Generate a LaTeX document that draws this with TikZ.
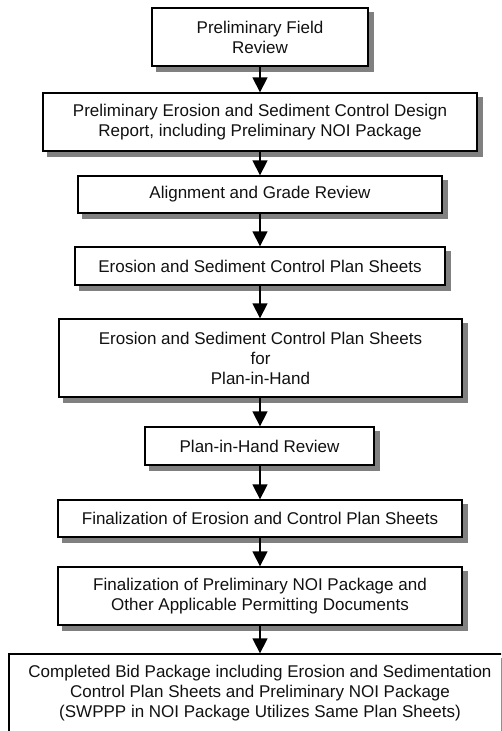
\documentclass[tikz,border=0pt]{standalone}
\usepackage{fontspec}
\setmainfont{Liberation Sans}
\usetikzlibrary{arrows.meta,backgrounds}
\definecolor{shadowgray}{HTML}{808080}
\definecolor{inkcol}{HTML}{111111}
\tikzset{
  stepbox/.style={draw=black, line width=1.3pt, fill=white, rectangle,
    align=center, inner sep=0pt, text=inkcol,
    font=\fontsize{17}{20}\selectfont},
  boxshadow/.style={fill=shadowgray},
  flowarrow/.style={line width=1.3pt, -{Triangle[width=15pt,length=15pt]}}
}
\begin{document}
\begin{tikzpicture}[x=1pt,y=-1pt]
\useasboundingbox (0,0) rectangle (501,731);
\clip (0,0) rectangle (501,731);
\node[stepbox, minimum width=216pt, minimum height=58pt] (b1) at (260,37) {Preliminary Field\\Review};
\node[stepbox, minimum width=434pt, minimum height=58pt] (b2) at (260,122) {Preliminary Erosion and Sediment Control Design\\Report, including Preliminary NOI Package};
\node[stepbox, minimum width=364pt, minimum height=37pt] (b3) at (260,194.5) {Alignment and Grade Review};
\node[stepbox, minimum width=370pt, minimum height=38pt] (b4) at (260,266) {Erosion and Sediment Control Plan Sheets};
\node[stepbox, minimum width=403pt, minimum height=78pt] (b5) at (260.5,358) {Erosion and Sediment Control Plan Sheets\\for\\Plan-in-Hand};
\node[stepbox, minimum width=229pt, minimum height=38pt] (b6) at (259.5,446) {Plan-in-Hand Review};
\node[stepbox, minimum width=404pt, minimum height=37pt] (b7) at (260,518.5) {Finalization of Erosion and Control Plan Sheets};
\node[stepbox, minimum width=404pt, minimum height=58pt] (b8) at (260,596) {Finalization of Preliminary NOI Package and\\Other Applicable Permitting Documents};
\node[stepbox, minimum width=502pt, minimum height=78pt] (b9) at (260,693) {Completed Bid Package including Erosion and Sedimentation\\Control Plan Sheets and Preliminary NOI Package\\(SWPPP in NOI Package Utilizes Same Plan Sheets)};
\begin{scope}[on background layer]
  \foreach \b in {b1,b2,b3,b4,b5,b6,b7,b8,b9}
    \fill[boxshadow] ([shift={(5,5)}]\b.south west) rectangle ([shift={(5,5)}]\b.north east);
\end{scope}
\coordinate (ax) at (260,0);
\draw[flowarrow] (b1.south -| ax) -- (b2.north -| ax);
\draw[flowarrow] (b2.south -| ax) -- (b3.north -| ax);
\draw[flowarrow] (b3.south -| ax) -- (b4.north -| ax);
\draw[flowarrow] (b4.south -| ax) -- (b5.north -| ax);
\draw[flowarrow] (b5.south -| ax) -- (b6.north -| ax);
\draw[flowarrow] (b6.south -| ax) -- (b7.north -| ax);
\draw[flowarrow] (b7.south -| ax) -- (b8.north -| ax);
\draw[flowarrow] (b8.south -| ax) -- (b9.north -| ax);
\end{tikzpicture}
\end{document}
